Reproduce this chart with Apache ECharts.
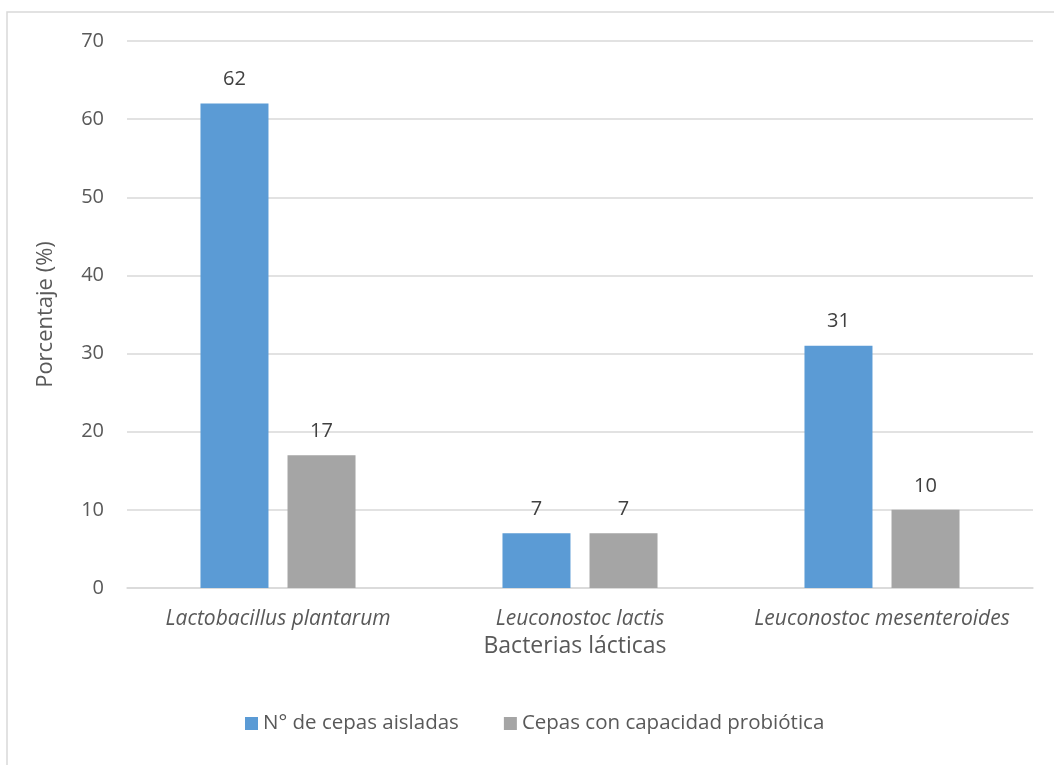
<!DOCTYPE html>
<html>
<head>
<meta charset="utf-8">
<script src="https://cdn.jsdelivr.net/npm/echarts@6/dist/echarts.min.js"></script>
<style>
  html, body { margin: 0; padding: 0; background: #fff; }
  #chart { width: 1054px; height: 765px; }
</style>
</head>
<body>
<div id="chart"></div>
<script>
const categories = ["Lactobacillus plantarum", "Leuconostoc lactis", "Leuconostoc mesenteroides"];
const aisladas = [62, 7, 31];
const probioticas = [17, 7, 10];
const seriesNames = ["N° de cepas aisladas", "Cepas con capacidad probiótica"];

const font = "'Open Sans', sans-serif";
const chart = echarts.init(document.getElementById("chart"));

chart.setOption({
  animation: false,
  textStyle: { fontFamily: font },
  graphic: [
    {
      type: "rect",
      shape: { x: 7, y: 12, width: 1200, height: 900 },
      style: { fill: "none", stroke: "#d9d9d9", lineWidth: 1.5 },
      silent: true,
    },
  ],
  grid: { left: 127, right: 21, top: 41, bottom: 177 },
  legend: {
    bottom: 26,
    left: 240,
    itemWidth: 13,
    itemHeight: 13,
    itemGap: 45,
    icon: "rect",
    textStyle: { color: "#595959", fontSize: 20.5, fontFamily: font },
    data: seriesNames,
  },
  xAxis: {
    type: "category",
    data: categories,
    name: "Bacterias lácticas",
    nameLocation: "middle",
    nameGap: 42,
    nameTextStyle: { color: "#595959", fontSize: 23, fontFamily: font, padding: [0, 10, 0, 0] },
    axisLine: { lineStyle: { color: "#d9d9d9", width: 1.5 } },
    axisTick: { show: false },
    axisLabel: {
      color: "#595959",
      fontSize: 21,
      fontStyle: "italic",
      margin: 21,
      interval: 0,
      hideOverlap: false,
      fontFamily: font,
    },
  },
  yAxis: {
    type: "value",
    min: 0,
    max: 70,
    interval: 10,
    name: "Porcentaje (%)",
    nameLocation: "middle",
    nameGap: 70,
    nameTextStyle: { color: "#595959", fontSize: 22, fontFamily: font },
    axisLine: { show: false },
    axisTick: { show: false },
    axisLabel: { color: "#595959", fontSize: 20, margin: 23, fontFamily: font },
    splitLine: { lineStyle: { color: "#d9d9d9", width: 1.5 } },
  },
  series: [
    {
      name: seriesNames[0],
      type: "bar",
      data: aisladas,
      barWidth: 68,
      barGap: "28%",
      itemStyle: { color: "#5b9bd5" },
      label: { show: true, position: "top", distance: 14, color: "#404040", fontSize: 20, fontFamily: font },
    },
    {
      name: seriesNames[1],
      type: "bar",
      data: probioticas,
      barWidth: 68,
      barGap: "28%",
      itemStyle: { color: "#a5a5a5" },
      label: { show: true, position: "top", distance: 14, color: "#404040", fontSize: 20, fontFamily: font },
    },
  ],
});
</script>
</body>
</html>
